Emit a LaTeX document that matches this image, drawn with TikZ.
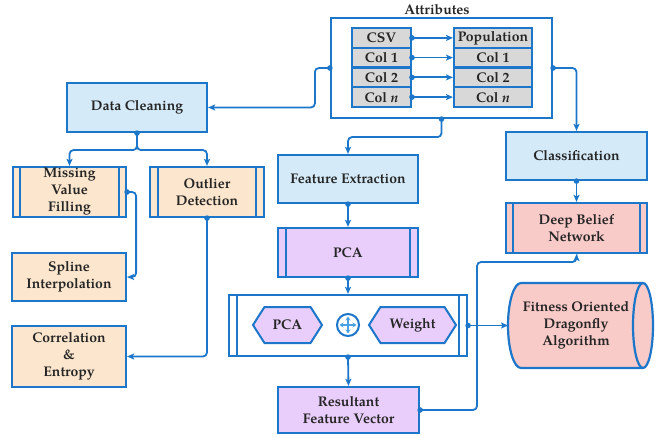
\documentclass[tikz,border=0pt]{standalone}
\usepackage{fontspec}
\setmainfont{TeX Gyre Pagella}
\usetikzlibrary{arrows.meta,shapes.symbols,calc}
\definecolor{lb}{RGB}{28,118,202}
\definecolor{lb2}{RGB}{70,160,225}
\definecolor{fb}{RGB}{212,234,248}
\definecolor{fp}{RGB}{252,230,205}
\definecolor{fk}{RGB}{248,202,200}
\definecolor{fu}{RGB}{233,206,252}
\definecolor{fg}{RGB}{216,216,216}
\newcommand\startdot[1]{\fill[lb] (#1) circle[radius=2.8pt];}
\tikzset{
  txt/.style={font=\fontsize{14}{17}\selectfont\bfseries, align=center, text=black!85},
  box/.style={txt, draw=lb, line width=2.2pt, inner sep=0pt, rectangle},
  bars/.style={path picture={\draw[lb, line width=2pt]
     ([xshift=#1]path picture bounding box.north west) -- ([xshift=#1]path picture bounding box.south west)
     ([xshift=-#1]path picture bounding box.north east) -- ([xshift=-#1]path picture bounding box.south east);}},
  cell/.style={box, fill=fg, line width=2pt},
  con/.style={draw=lb, line width=1.8pt, rounded corners=4pt,
     arrows={-Stealth[length=7pt,width=6pt,inset=1.5pt]}},
  hexa/.style={txt, signal, signal to=west and east, signal pointer angle=115, draw=lb, fill=fu, line width=2pt, inner sep=0pt},
  tiny/.style={lb2, line width=1.2pt, arrows={Stealth[length=4pt,width=5pt]-Stealth[length=4pt,width=5pt]}}
}
\begin{document}
\begin{tikzpicture}[x=1pt,y=-1pt]
\useasboundingbox (0,0) rectangle (666,438);
% Attributes
\node[txt] (attrtitle) at (437,10) {Attributes};
\node[draw=lb, line width=2.2pt, minimum width=221pt, minimum height=100pt, inner sep=0] (attr) at (441.5,68) {};
\node[cell, minimum width=59pt, minimum height=19.75pt] (l1) at (381.5,37.9) {CSV};
\node[cell, minimum width=59pt, minimum height=19.75pt] (l2) at (381.5,57.6) {Col 1};
\node[cell, minimum width=59pt, minimum height=19.75pt] (l3) at (381.5,77.4) {Col 2};
\node[cell, minimum width=59pt, minimum height=19.75pt] (l4) at (381.5,97.1) {Col \textit{n}};
\node[cell, minimum width=78pt, minimum height=19.75pt] (r1) at (493,37.9) {Population};
\node[cell, minimum width=78pt, minimum height=19.75pt] (r2) at (493,57.6) {Col 1};
\node[cell, minimum width=78pt, minimum height=19.75pt] (r3) at (493,77.4) {Col 2};
\node[cell, minimum width=78pt, minimum height=19.75pt] (r4) at (493,97.1) {Col \textit{n}};
\foreach \i in {1,...,4}{\draw[con, rounded corners=0pt] (l\i.east) -- (r\i.west); \startdot{l\i.east}}
% left column
\node[box, fill=fb, minimum width=140pt, minimum height=49pt] (dc) at (137,107.5) {Data Cleaning};
\node[box, fill=fp, bars=7pt, minimum width=113pt, minimum height=50pt] (mvf) at (69.5,192) {Missing\\Value\\Filling};
\node[box, fill=fp, bars=8pt, minimum width=114pt, minimum height=50pt] (od) at (207,192) {Outlier\\Detection};
\node[box, fill=fp, minimum width=114pt, minimum height=48pt] (sp) at (69,277) {Spline\\Interpolation};
\node[box, fill=fp, minimum width=114pt, minimum height=61pt] (ce) at (69,356.5) {Correlation\\\&\\Entropy};
% middle column
\node[box, fill=fb, minimum width=140pt, minimum height=48pt] (fe) at (348,179) {Feature Extraction};
\node[box, fill=fu, bars=8pt, minimum width=140pt, minimum height=49pt] (pca) at (348,252.5) {PCA};
\node[box, fill=white, bars=8pt, minimum width=238pt, minimum height=61pt] (cont) at (348,325.5) {};
\node[hexa, minimum width=69pt, minimum height=36pt] (hp) at (287.5,325) {PCA};
\node[hexa, minimum width=87pt, minimum height=36pt] (hw) at (412.5,325) {Weight};
\node[circle, draw=lb, line width=2pt, minimum size=22pt, inner sep=0pt] (sym) at (348,325) {};
\draw[tiny] ($(sym.center)+(-8.5,0)$) -- ($(sym.center)+(8.5,0)$);
\draw[tiny] ($(sym.center)+(0,-8.5)$) -- ($(sym.center)+(0,8.5)$);
\node[box, fill=fu, minimum width=141pt, minimum height=46pt] (rfv) at (348.5,410) {Resultant\\Feature Vector};
% right column
\node[box, fill=fb, minimum width=141pt, minimum height=48pt] (cls) at (576.5,156) {Classification};
\node[box, fill=fk, bars=7pt, minimum width=141pt, minimum height=50pt] (dbn) at (576.5,228) {Deep Belief\\Network};
\filldraw[draw=lb, fill=fk, line width=2.2pt] (521,283) -- (643,283)
  arc[start angle=90, end angle=-90, x radius=10pt, y radius=42.5pt] -- (521,368)
  arc[start angle=270, end angle=90, x radius=13pt, y radius=42.5pt] -- cycle;
\draw[lb, line width=2.2pt] (643,283) arc[start angle=90, end angle=270, x radius=10pt, y radius=42.5pt];
\node[txt] (fod) at (576,325.5) {Fitness Oriented\\Dragonfly\\Algorithm};
\coordinate (fodw) at (508,325.5);
% connectors
\draw[con] (attr.west) -- ++(-15,0) |- (dc.east);
\draw[con] (attr.east) -| (cls.north);
\draw[con] (attr.south) -- ++(0,18) -| (fe.north);
\draw[con] (dc.south) -- ++(0,17) -| (mvf.north);
\draw[con] (dc.south) -- ++(0,17) -| (od.north);
\draw[con] (mvf.east) -- ++(9,0) |- (sp.east);
\draw[con] (od.south) |- (ce.east);
\draw[con] (fe.south) -- (pca.north);
\draw[con] (pca.south) -- (cont.north);
\draw[con] (cont.south) -- (rfv.north);
\draw[con] (cls.south) -- (dbn.north);
\draw[con] (cont.east) -- (fodw);
\coordinate (j1) at (477,262);
\draw[con] (rfv.east) -| (j1) -| (dbn.south);
\foreach \a in {attr.west,attr.east,attr.south,dc.south,mvf.east,od.south,fe.south,pca.south,cont.south,cls.south,cont.east,rfv.east}{\startdot{\a}}
\end{tikzpicture}
\end{document}
